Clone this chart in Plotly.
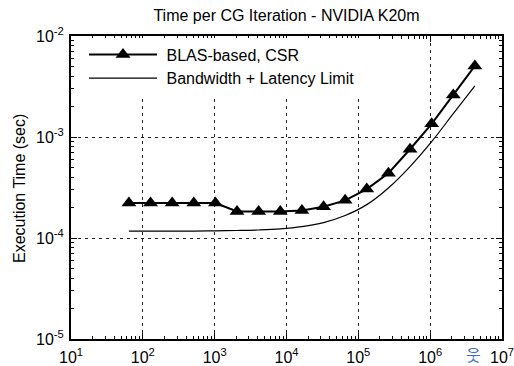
import plotly.graph_objects as go

# Data
sizes = [64, 128, 256, 512, 1024, 2048, 4096, 8192, 16384, 32768, 65536,
         131072, 262144, 524288, 1048576, 2097152, 4194304]
blas_csr = [2.22e-4, 2.22e-4, 2.22e-4, 2.22e-4, 2.22e-4, 1.83e-4, 1.83e-4,
            1.83e-4, 1.87e-4, 2.04e-4, 2.36e-4, 3.05e-4, 4.38e-4, 7.56e-4,
            1.35e-3, 2.61e-3, 5.05e-3]
bw_latency_limit = [1.17e-4, 1.17e-4, 1.17e-4, 1.17e-4, 1.178e-4, 1.186e-4,
                    1.20e-4, 1.23e-4, 1.295e-4, 1.42e-4, 1.67e-4, 2.14e-4,
                    3.13e-4, 5.10e-4, 9.0e-4, 1.70e-3, 3.20e-3]

x_tick_vals = [1e1, 1e2, 1e3, 1e4, 1e5, 1e6, 1e7]
x_tick_text = ["10<sup>1</sup>", "10<sup>2</sup>", "10<sup>3</sup>", "10<sup>4</sup>",
               "10<sup>5</sup>", "10<sup>6</sup>", "10<sup>7</sup>"]
y_tick_vals = [1e-5, 1e-4, 1e-3, 1e-2]
y_tick_text = ["10<sup>-5</sup>", "10<sup>-4</sup>", "10<sup>-3</sup>", "10<sup>-2</sup>"]

title_text = "Time per CG Iteration - NVIDIA K20m"
y_title = "Execution Time (sec)"
series_names = ["BLAS-based, CSR", "Bandwidth + Latency Limit"]

FONT = "Liberation Sans, Arial, Helvetica, sans-serif"
PAD = "\u00a0"

x_minor = [m * 10 ** e for e in range(1, 7) for m in range(2, 10)]
y_minor = [m * 10.0 ** e for e in range(-5, -2) for m in range(2, 10)]

fig = go.Figure()
fig.add_trace(go.Scatter(
    x=sizes, y=blas_csr, mode="lines+markers", name=PAD + series_names[0],
    line=dict(color="black", width=2),
    marker=dict(symbol="triangle-up", size=13, color="black"),
))
fig.add_trace(go.Scatter(
    x=sizes, y=bw_latency_limit, mode="lines", name=PAD + series_names[1],
    line=dict(color="black", width=1.2, shape="spline"),
))

axis_common = dict(
    showline=True, linecolor="black", linewidth=2, mirror="allticks",
    ticks="inside", ticklen=6, tickwidth=1, tickcolor="black",
    showgrid=True, gridcolor="#222", gridwidth=1, griddash="3px,4px",
    zeroline=False, automargin=False, ticklabeloverflow="allow",
    tickfont=dict(size=16, color="black", family=FONT),
)

fig.update_xaxes(
    type="log", range=[1, 7], tickmode="array", tickvals=x_tick_vals, ticktext=x_tick_text,
    minor=dict(tickmode="array", tickvals=x_minor, ticks="inside", ticklen=3,
               tickcolor="black", showgrid=False),
    ticklabelstandoff=3,
    **axis_common,
)
fig.update_yaxes(
    type="log", range=[-5, -2], tickmode="array", tickvals=y_tick_vals, ticktext=y_tick_text,
    minor=dict(tickmode="array", tickvals=y_minor, ticks="inside", ticklen=3,
               tickcolor="black", showgrid=False),
    ticklabelstandoff=2,
    **axis_common,
)

fig.update_layout(
    width=514, height=366,
    margin=dict(l=71, r=12, t=36, b=27, autoexpand=False),
    paper_bgcolor="white", plot_bgcolor="white",
    font=dict(family=FONT, color="black", size=16),
    title=dict(text=title_text, xref="paper", x=0.5, xanchor="center",
               y=0.959, yanchor="middle",
               font=dict(size=16, color="black", family=FONT)),
    legend=dict(x=0.0302, y=0.995, xanchor="left", yanchor="top",
                bgcolor="white", borderwidth=0, itemwidth=68,
                font=dict(size=16, color="black", family=FONT),
                tracegroupgap=0),
    showlegend=True,
    annotations=[
        dict(text=y_title, xref="paper", yref="paper", x=-0.1206, y=0.495,
             textangle=-90, showarrow=False, xanchor="center", yanchor="middle",
             font=dict(size=16, color="black", family=FONT)),
        dict(text="웃", xref="paper", yref="paper", x=0.935, y=-0.048,
             showarrow=False, xanchor="center", yanchor="middle",
             font=dict(size=16, color="#3b6cc9", family="Noto Sans CJK KR")),
    ],
)

fig.write_html("out.html", config={"displayModeBar": False},
               post_script="document.body.style.margin='0';")
